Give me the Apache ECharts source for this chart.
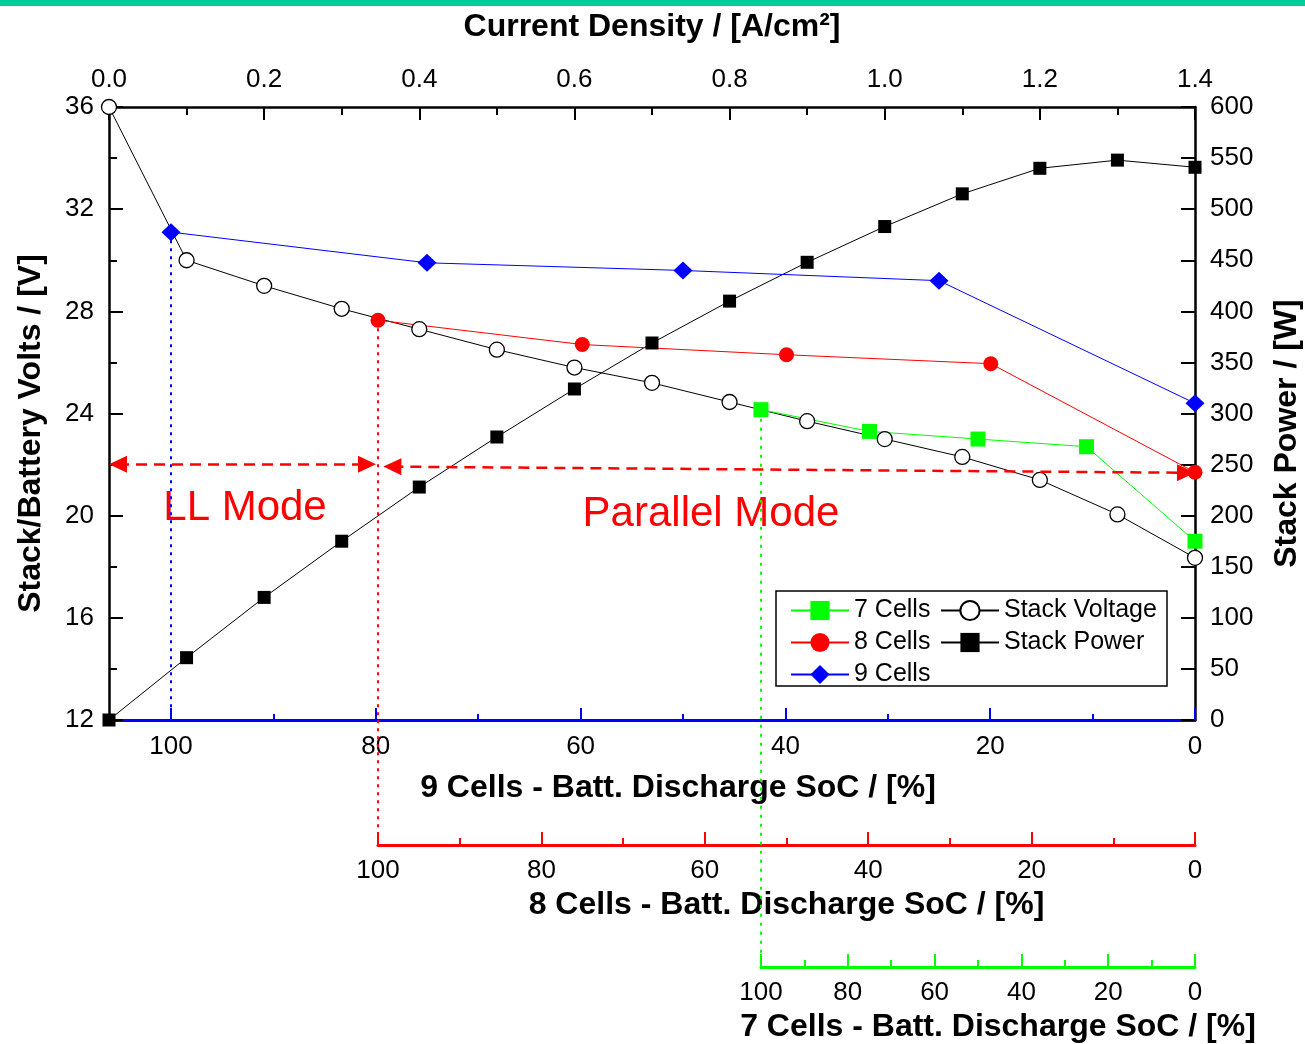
<!DOCTYPE html>
<html>
<head>
<meta charset="utf-8">
<script src="https://cdn.jsdelivr.net/npm/echarts@6/dist/echarts.min.js"></script>
<style>
  html, body { margin: 0; padding: 0; background: #fff; }
  #main { width: 1305px; height: 1044px; }
</style>
</head>
<body>
<div id="main"></div>
<script>
// stack curve vs current density
var currentDensity = [0, 0.1, 0.2, 0.3, 0.4, 0.5, 0.6, 0.7, 0.8, 0.9, 1.0, 1.1, 1.2, 1.3, 1.4];
var stackVoltage = [36.0, 30.0, 29.0, 28.1, 27.3, 26.5, 25.8, 25.2, 24.45, 23.7, 23.0, 22.3, 21.4, 20.05, 18.35];
var stackPower = [0, 61, 120, 175, 228, 277, 324, 369, 410, 448, 483, 515, 540, 548, 541];

// battery voltage vs discharge SoC
var socPoints = [100, 75, 50, 25, 0];
var cells9 = [31.1, 29.9, 29.6, 29.2, 24.4];
var cells8 = [27.65, 26.7, 26.3, 25.95, 21.7];
var cells7 = [24.15, 23.3, 23.0, 22.7, 19.0];

var socTicks = [0, 20, 40, 60, 80, 100];
var socMinorTicks = [10, 30, 50, 70, 90];

var FONT = 'Liberation Sans, Arial, Helvetica, sans-serif';
var BLUE = '#0000ff', RED = '#ff0000', GREEN = '#00ff00';

// volts per pixel of the main plot (24 V over 613 px), used so the
// 8 / 7 cell grids share the same vertical scale while reaching lower
var vpp = 24 / 613;
var yMin8 = 36 - (845 - 107) * vpp;
var yMin7 = 36 - (967 - 107) * vpp;
var soc9Max = 100 * (1195 - 109) / (1195 - 171);

function pairs(xs, ys) {
    return xs.map(function (x, i) { return [x, ys[i]]; });
}

var labelStyle = { fontFamily: FONT, fontSize: 26, color: '#000' };
var nameStyle = { fontFamily: FONT, fontSize: 32, fontWeight: 'bold', color: '#000' };

function socAxis(grid, color, name, nameGap, pad) {
    return {
        gridIndex: grid, type: 'value', position: 'bottom', inverse: true,
        min: 0, max: 100, interval: 20,
        axisLine: { onZero: false, lineStyle: { color: color, width: 3 } },
        axisTick: { inside: true, length: 13, lineStyle: { color: color, width: 2 } },
        minorTick: { show: true, splitNumber: 2, length: 7, lineStyle: { color: color, width: 2 } },
        axisLabel: Object.assign({ margin: 13 }, labelStyle),
        splitLine: { show: false },
        name: name, nameLocation: 'middle', nameGap: nameGap,
        nameTextStyle: Object.assign({ padding: pad }, nameStyle)
    };
}

var myChart = echarts.init(document.getElementById('main'));

var option = {
    animation: false,
    backgroundColor: '#fff',
    grid: [
        { left: 109, right: 110, top: 107, bottom: 324, outerBoundsMode: 'none' },
        { left: 378, right: 110, top: 107, bottom: 199, outerBoundsMode: 'none' },
        { left: 761, right: 110, top: 107, bottom: 77, outerBoundsMode: 'none' }
    ],
    xAxis: [
        {
            gridIndex: 0, type: 'value', position: 'top',
            min: 0, max: 1.4, interval: 0.2,
            axisLine: { onZero: false, lineStyle: { color: '#000', width: 2.5 } },
            axisTick: { inside: true, length: 13, lineStyle: { color: '#000', width: 2 } },
            minorTick: { show: true, splitNumber: 2, length: 8, lineStyle: { color: '#000', width: 2 } },
            axisLabel: Object.assign({ margin: 14, formatter: function (v) { return v.toFixed(1); } }, labelStyle),
            splitLine: { show: false },
            name: 'Current Density / [A/cm²]', nameLocation: 'middle', nameGap: 64,
            nameTextStyle: nameStyle
        },
        {
            gridIndex: 0, type: 'value', position: 'bottom', inverse: true,
            min: 0, max: soc9Max,
            axisLine: { onZero: false, lineStyle: { color: BLUE, width: 3 } },
            axisTick: { inside: true, length: 12, customValues: socTicks, lineStyle: { color: BLUE, width: 2 } },
            axisLabel: Object.assign({ margin: 14, customValues: socTicks }, labelStyle),
            splitLine: { show: false },
            name: '9 Cells - Batt. Discharge SoC / [%]', nameLocation: 'middle', nameGap: 52,
            nameTextStyle: Object.assign({ padding: [0, 0, 0, 52] }, nameStyle)
        },
        {
            gridIndex: 0, type: 'value', position: 'bottom', inverse: true,
            min: 0, max: soc9Max,
            axisLine: { show: false, onZero: false },
            axisTick: { inside: true, length: 6, customValues: socMinorTicks, lineStyle: { color: BLUE, width: 2 } },
            axisLabel: { show: false },
            splitLine: { show: false }
        },
        socAxis(1, RED, '8 Cells - Batt. Discharge SoC / [%]', 44, [0, 0, 0, 0]),
        socAxis(2, GREEN, '7 Cells - Batt. Discharge SoC / [%]', 42, [0, 0, 0, 40])
    ],
    yAxis: [
        {
            gridIndex: 0, type: 'value', position: 'left',
            min: 12, max: 36, interval: 4,
            axisLine: { onZero: false, lineStyle: { color: '#000', width: 2.5 } },
            axisTick: { inside: true, length: 14, lineStyle: { color: '#000', width: 2 } },
            minorTick: { show: true, splitNumber: 2, length: 8, lineStyle: { color: '#000', width: 2 } },
            axisLabel: Object.assign({ margin: 15 }, labelStyle),
            splitLine: { show: false },
            name: 'Stack/Battery Volts / [V]', nameLocation: 'middle', nameGap: 62, nameRotate: 90,
            nameTextStyle: Object.assign({ padding: [0, 40, 0, 0] }, nameStyle)
        },
        {
            gridIndex: 0, type: 'value', position: 'right',
            min: 0, max: 600, interval: 50,
            axisLine: { onZero: false, lineStyle: { color: '#000', width: 2.5 } },
            axisTick: { inside: true, length: 14, lineStyle: { color: '#000', width: 2 } },
            axisLabel: Object.assign({ margin: 15 }, labelStyle),
            splitLine: { show: false },
            name: 'Stack Power / [W]', nameLocation: 'middle', nameGap: 76, nameRotate: 90,
            nameTextStyle: Object.assign({ padding: [0, 40, 0, 0] }, nameStyle)
        },
        { gridIndex: 1, type: 'value', min: yMin8, max: 36, show: false },
        { gridIndex: 2, type: 'value', min: yMin7, max: 36, show: false }
    ],
    legend: [
        {
            data: ['7 Cells', '8 Cells', '9 Cells'],
            orient: 'vertical', left: 790, top: 598, padding: 0,
            itemWidth: 58, itemHeight: 24, itemGap: 7,
            textStyle: { fontFamily: FONT, fontSize: 25, color: '#000' }
        },
        {
            data: ['Stack Voltage', 'Stack Power'],
            orient: 'vertical', left: 940, top: 598, padding: 0,
            itemWidth: 58, itemHeight: 24, itemGap: 7,
            textStyle: { fontFamily: FONT, fontSize: 25, color: '#000' }
        }
    ],
    graphic: [
        { type: 'rect', shape: { x: 0, y: 0, width: 1305, height: 6 }, style: { fill: '#00cc99' } },
        { type: 'rect', shape: { x: 776, y: 591, width: 391, height: 95 }, style: { fill: '#fff', stroke: '#000', lineWidth: 1.5 } },
        { type: 'text', x: 245, y: 508, style: { text: 'LL Mode', fill: RED, fontSize: 42, fontFamily: FONT, align: 'center', verticalAlign: 'middle' } },
        { type: 'text', x: 711, y: 514, style: { text: 'Parallel Mode', fill: RED, fontSize: 42, fontFamily: FONT, align: 'center', verticalAlign: 'middle' } }
    ],
    series: [
        {
            name: 'Stack Power', type: 'line', xAxisIndex: 0, yAxisIndex: 1,
            data: pairs(currentDensity, stackPower),
            symbol: 'rect', symbolSize: 13,
            itemStyle: { color: '#000' }, lineStyle: { color: '#000', width: 1 }
        },
        {
            name: 'Stack Voltage', type: 'line', xAxisIndex: 0, yAxisIndex: 0,
            data: pairs(currentDensity, stackVoltage),
            symbol: 'circle', symbolSize: 15,
            itemStyle: { color: '#fff', borderColor: '#000', borderWidth: 1.3 },
            lineStyle: { color: '#000', width: 1 },
            markLine: {
                silent: true, symbol: ['triangle', 'triangle'], symbolSize: [17, 18],
                label: { show: false },
                lineStyle: { color: RED, width: 2.5, type: [11, 7] },
                itemStyle: { color: RED },
                data: [
                    [{ coord: [0.0116, 22.01] }, { coord: [0.3326, 22.01] }],
                    [{ coord: [0.3653, 21.92] }, { coord: [1.3884, 21.68] }]
                ]
            }
        },
        {
            name: '9 Cells', type: 'line', xAxisIndex: 1, yAxisIndex: 0,
            data: pairs(socPoints, cells9),
            symbol: 'diamond', symbolSize: [19, 18],
            itemStyle: { color: BLUE }, lineStyle: { color: BLUE, width: 1 },
            markLine: {
                silent: true, symbol: 'none', label: { show: false },
                lineStyle: { color: BLUE, width: 2, type: [3, 5] },
                data: [[{ coord: [100, cells9[0]] }, { coord: [100, 12] }]]
            }
        },
        {
            name: '8 Cells', type: 'line', xAxisIndex: 3, yAxisIndex: 2,
            data: pairs(socPoints, cells8),
            symbol: 'circle', symbolSize: 15,
            itemStyle: { color: RED }, lineStyle: { color: RED, width: 1 },
            markLine: {
                silent: true, symbol: 'none', label: { show: false },
                lineStyle: { color: RED, width: 2, type: [3, 5] },
                data: [[{ coord: [100, cells8[0]] }, { coord: [100, yMin8] }]]
            }
        },
        {
            name: '7 Cells', type: 'line', xAxisIndex: 4, yAxisIndex: 3,
            data: pairs(socPoints, cells7),
            symbol: 'rect', symbolSize: 15,
            itemStyle: { color: GREEN }, lineStyle: { color: GREEN, width: 1 },
            markLine: {
                silent: true, symbol: 'none', label: { show: false },
                lineStyle: { color: GREEN, width: 2, type: [3, 6] },
                data: [[{ coord: [100, cells7[0]] }, { coord: [100, yMin7] }]]
            }
        }
    ]
};

myChart.setOption(option);
</script>
</body>
</html>
